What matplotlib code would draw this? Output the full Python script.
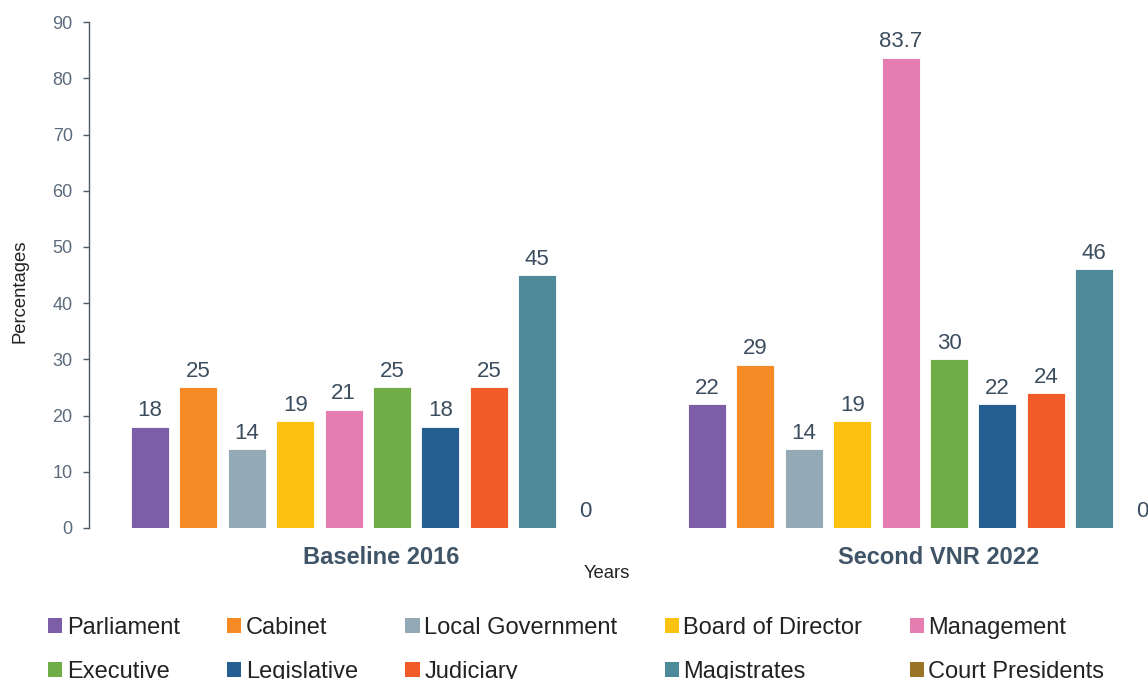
import matplotlib
matplotlib.use("Agg")
import matplotlib.pyplot as plt
from matplotlib import font_manager
from matplotlib.patches import Patch
import numpy as np

groups = ["Baseline 2016", "Second VNR 2022"]
categories = ["Parliament", "Cabinet", "Local Government", "Board of Director",
              "Management", "Executive", "Legislative", "Judiciary",
              "Magistrates", "Court Presidents"]
baseline_2016 = [18, 25, 14, 19, 21, 25, 18, 25, 45, 0]
second_vnr_2022 = [22, 29, 14, 19, 83.7, 30, 22, 24, 46, 0]
colors = ["#7b5ea7", "#f68b25", "#93a9b5", "#fbc212", "#e57db0",
          "#70ad47", "#255e91", "#f15a29", "#4e8a99", "#9a7428"]
yticks = list(range(0, 91, 10))

names = {f.name for f in font_manager.fontManager.ttflist}
base_font = "Liberation Sans" if "Liberation Sans" in names else "DejaVu Sans"
narrow_font = "Liberation Sans Narrow" if "Liberation Sans Narrow" in names else base_font
narrow_size = 16 if narrow_font != base_font else 13.3
plt.rcParams["font.family"] = [base_font, "DejaVu Sans"]

fig = plt.figure(figsize=(11.48, 6.79), dpi=100)
ax = fig.add_axes([0.0778, 0.2224, 0.9704, 0.745])

values = np.array([baseline_2016, second_vnr_2022])
n = len(categories)
slot = 0.0869
bw = 0.068
x = np.arange(len(groups))
label_color = "#3b4d5e"
for i in range(n):
    pos = x + (i - (n - 1) / 2) * slot
    bars = ax.bar(pos, values[:, i], width=bw, color=colors[i],
                  edgecolor="white", linewidth=0.6, label=categories[i])
    for b, v in zip(bars, values[:, i]):
        txt = f"{v:g}"
        ax.annotate(txt, (b.get_x() + b.get_width() / 2, v),
                    xytext=(0, 4), textcoords="offset points",
                    ha="center", va="bottom", fontsize=16, color=label_color)

ax.set_xlim(-0.5, 1.5)
ax.set_ylim(0, 90)
ax.set_yticks(yticks)
ax.tick_params(axis="y", labelsize=13, labelcolor="#5b6b7b", color="#4a5a6a",
               length=4, width=1, pad=8)
ax.set_xticks(x + 0.024)
ax.set_xticklabels(groups, fontsize=17, fontweight="bold", color="#3f5466")
ax.tick_params(axis="x", length=0, pad=13)
for s in ["top", "right", "bottom"]:
    ax.spines[s].set_visible(False)
ax.spines["left"].set_color("#4a5a6a")
ax.spines["left"].set_linewidth(1)

fig.text(607 / 1148, 1 - 574 / 679, "Years", ha="center", va="center",
         fontsize=narrow_size, family=narrow_font, color="#222222")
fig.text(20 / 1148, 1 - 291 / 679, "Percentages", ha="center", va="center",
         rotation=90, fontsize=narrow_size, family=narrow_font, color="#222222")

# legend filled row by row (matplotlib fills column-wise)
ncol = 5
nrow = 2
order = [r * ncol + c for c in range(ncol) for r in range(nrow)]
handles = [Patch(facecolor=colors[k], edgecolor="none") for k in order]
labels = [categories[k] for k in order]
fig.legend(handles, labels, loc="upper left", ncol=ncol,
           bbox_to_anchor=(0.0418, 0.092), frameon=False, fontsize=17,
           handlelength=0.6, handleheight=0.6, handletextpad=0.2,
           columnspacing=2.0, labelspacing=0.95, borderpad=0, borderaxespad=0,
           labelcolor="#222222")

fig.savefig("out.png", dpi=100)
